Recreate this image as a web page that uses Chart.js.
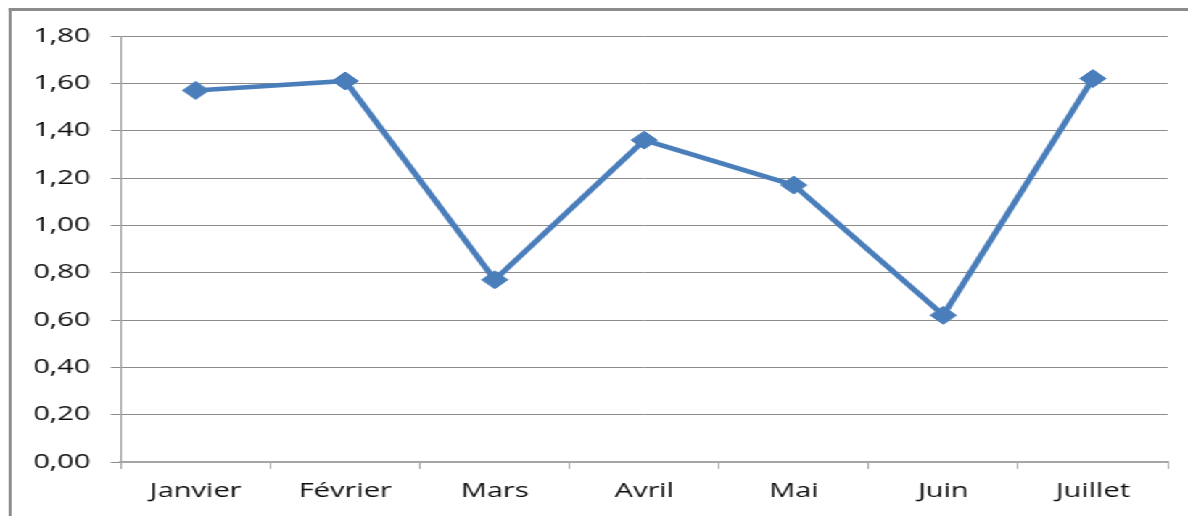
<!DOCTYPE html>
<html>
<head>
<meta charset="utf-8">
<script src="https://cdn.jsdelivr.net/npm/chart.js@4/dist/chart.umd.min.js"></script>
<style>
  html, body { margin: 0; padding: 0; background: #fff; overflow: hidden; }
  #stage {
    position: absolute; left: 0; top: 0;
    width: 819px; height: 516px;
    transform: scaleX(1.4505); transform-origin: 0 0;
  }
  #frame {
    position: absolute; left: 6px; top: 8px; right: -20px; bottom: -20px;
    border-left: 2px solid #8c8c8c; border-top: 3px solid #8c8c8c;
  }
  #wrap { position: absolute; left: 0; top: 0; width: 819px; height: 516px; }
</style>
</head>
<body>
<div id="stage">
  <div id="frame"></div>
  <div id="wrap"><canvas id="chart"></canvas></div>
</div>
<script>
  var months = ['Janvier', 'Février', 'Mars', 'Avril', 'Mai', 'Juin', 'Juillet'];
  var values = [1.57, 1.61, 0.77, 1.36, 1.17, 0.62, 1.62];
  var yMin = 0;
  var yMax = 1.8;
  var yStep = 0.2;

  var blue = '#4a7ebb';
  var grid = '#8c8c8c';
  var txt = '#0d0d0d';
  var font = { family: '"Open Sans", sans-serif', size: 20 };

  new Chart(document.getElementById('chart'), {
    type: 'line',
    data: {
      labels: months,
      datasets: [{
        data: values,
        borderColor: blue,
        backgroundColor: blue,
        borderWidth: 4.5,
        pointStyle: 'rectRot',
        pointRadius: 9,
        pointBorderWidth: 1,
        pointBackgroundColor: blue,
        pointBorderColor: blue,
        tension: 0,
      }],
    },
    options: {
      responsive: true,
      maintainAspectRatio: false,
      animation: false,
      layout: { padding: { left: 0, right: 14, top: 36, bottom: 0 } },
      plugins: { legend: { display: false }, tooltip: { enabled: false } },
      scales: {
        x: {
          offset: true,
          grid: { offset: true, drawOnChartArea: false, drawTicks: true, tickLength: 7, color: '#a6a6a6', lineWidth: 1 },
          border: { color: '#a6a6a6', width: 2 },
          ticks: { color: txt, font: font, padding: 10, maxRotation: 0 },
          afterFit: function (s) { s.height = 54; },
        },
        y: {
          min: yMin,
          max: yMax,
          grid: { color: grid, lineWidth: 1, tickLength: 7 },
          border: { color: '#a0a0a0', width: 1 },
          ticks: {
            stepSize: yStep,
            color: txt,
            font: font,
            padding: 14,
            callback: function (v) { return v.toFixed(2).replace('.', ','); },
          },
          afterFit: function (s) { s.width = 83.4; },
        },
      },
    },
  });
</script>
</body>
</html>
